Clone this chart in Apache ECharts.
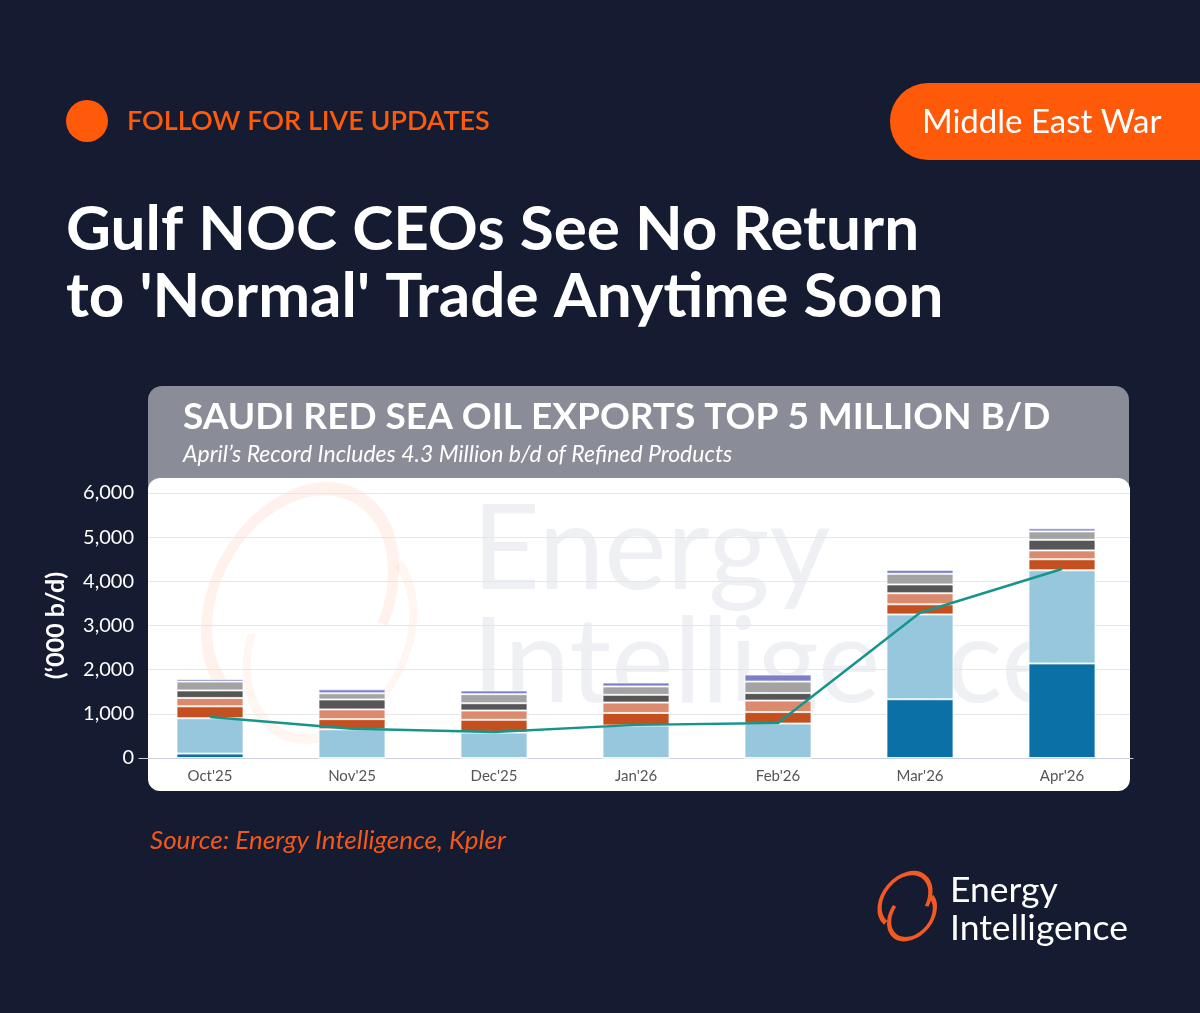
<!DOCTYPE html>
<html><head><meta charset="utf-8">
<script src="https://cdn.jsdelivr.net/npm/echarts@6/dist/echarts.min.js"></script>
<style>html,body{margin:0;padding:0;background:#151b30;}#c{width:1200px;height:1013px;}</style>
</head><body><div id="c"></div>
<script>
const categories = ["Oct'25","Nov'25","Dec'25","Jan'26","Feb'26","Mar'26","Apr'26"];
const seriesDarkBlue  = [100, 0, 0, 0, 0, 1330, 2140];
const seriesLightBlue = [800, 650, 575, 735, 780, 1920, 2110];
const seriesRust      = [270, 230, 290, 285, 260, 230, 250];
const seriesSalmon    = [190, 220, 210, 235, 260, 250, 200];
const seriesDarkGray  = [170, 225, 165, 175, 170, 200, 240];
const seriesGray      = [200, 140, 205, 190, 260, 240, 190];
const seriesPurple    = [60, 90, 85, 90, 160, 90, 70];
const lineRefined     = [930, 660, 590, 750, 790, 3290, 4280];
const yTicks = [0, 1000, 2000, 3000, 4000, 5000, 6000];

const chart = echarts.init(document.getElementById('c'), null, {renderer:'canvas'});
const F = 'Lato, "Noto Sans", sans-serif';
const orange = '#ff5a0a';
const border = {borderColor:'rgba(255,255,255,0.75)', borderWidth:1};
function bar(name, data, color){
  return {name, type:'bar', stack:'s', data, barWidth:67, xAxisIndex:0, yAxisIndex:0,
    itemStyle:Object.assign({color}, border), emphasis:{disabled:true}, z:3};
}
chart.setOption({
  backgroundColor:'#151b30',
  animation:false,
  grid:[
    {left:139, right:67, top:493, bottom:255},
    {left:148, right:70, top:493, bottom:255}
  ],
  xAxis:[
    {type:'category', gridIndex:0, data:categories, axisTick:{show:false},
     axisLine:{lineStyle:{color:'#ccd0d8'}}, axisLabel:{color:'#555', fontSize:15, fontFamily:F, margin:11}},
    {type:'value', gridIndex:1, show:false, min:0, max:1}
  ],
  yAxis:[
    {type:'value', gridIndex:0, min:0, max:6000, interval:1000, show:false},
    {type:'value', gridIndex:1, min:yTicks[0], max:yTicks[yTicks.length-1], interval:1000,
     axisLine:{show:false}, axisTick:{show:false},
     splitLine:{lineStyle:{color:'#e6e6e6', width:1}},
     axisLabel:{color:'#fff', fontSize:20, fontFamily:F, margin:14,
       formatter:v=>v.toLocaleString('en-US')},
     name:'(\u2018000 b/d)', nameLocation:'middle', nameRotate:90, nameGap:80,
     nameTextStyle:{color:'#fff', fontSize:25, fontWeight:'bold', fontFamily:F}}
  ],
  graphic:[
    // chart header panel
    {type:'rect', z:-20, shape:{x:148,y:386,width:981,height:140,r:14}, style:{fill:'#8a8c98'}},
    {type:'rect', z:-19, shape:{x:148,y:478,width:982,height:313,r:12}, style:{fill:'#ffffff'}},
    // watermark
    {type:'text', z:-18, left:472, top:492, style:{text:'Energy', fill:'#eef0f4', font:'118px '+F}},
    {type:'text', z:-18, left:472, top:605, style:{text:'Intelligence', fill:'#eef0f4', font:'118px '+F}},
    {type:'arc', z:-18, x:300, y:600, rotation:-0.5, scaleX:0.72, shape:{cx:0,cy:0,r:118,startAngle:Math.PI*0.55,endAngle:Math.PI*1.95},
      style:{stroke:'rgba(255,110,60,0.09)', lineWidth:14, fill:null}},
    {type:'arc', z:-18, x:330, y:640, rotation:-0.5, scaleX:0.72, shape:{cx:0,cy:0,r:105,startAngle:Math.PI*1.6,endAngle:Math.PI*0.9},
      style:{stroke:'rgba(255,110,60,0.07)', lineWidth:10, fill:null}},
    // header
    {type:'circle', z:10, shape:{cx:87,cy:121,r:21}, style:{fill:orange}},
    {type:'text', z:10, x:127, y:121, style:{text:'FOLLOW FOR LIVE UPDATES', fill:orange, font:'600 27px '+F, textVerticalAlign:'middle'}},
    {type:'rect', z:10, shape:{x:890,y:83,width:360,height:77,r:38}, style:{fill:orange}},
    {type:'text', z:11, x:922, y:122, style:{text:'Middle East War', fill:'#fff', font:'33px '+F, textVerticalAlign:'middle'}},
    {type:'text', z:10, x:66, y:230, style:{text:'Gulf NOC CEOs See No Return', fill:'#fff', font:'bold 62px '+F, textVerticalAlign:'middle'}},
    {type:'text', z:10, x:66, y:297, style:{text:"to 'Normal' Trade Anytime Soon", fill:'#fff', font:'bold 62px '+F, textVerticalAlign:'middle'}},
    // chart titles
    {type:'text', z:10, x:183, y:417, style:{text:'SAUDI RED SEA OIL EXPORTS TOP 5 MILLION B/D', fill:'#fff', font:'bold 37px '+F, textVerticalAlign:'middle'}},
    {type:'text', z:10, x:183, y:455, style:{text:'April\u2019s Record Includes 4.3 Million b/d of Refined Products', fill:'#fff', font:'italic 23px '+F, textVerticalAlign:'middle'}},
    // source
    {type:'text', z:10, x:150, y:841, style:{text:'Source: Energy Intelligence, Kpler', fill:'#f2581c', font:'italic 26px '+F, textVerticalAlign:'middle'}},
    // logo
    {type:'arc', z:10, x:905, y:900, rotation:-0.7, scaleX:0.72, shape:{cx:0,cy:0,r:30,startAngle:Math.PI*0.5,endAngle:Math.PI*1.9},
      style:{stroke:'#f15a24', lineWidth:5, fill:null}},
    {type:'arc', z:10, x:912, y:915, rotation:-0.7, scaleX:0.72, shape:{cx:0,cy:0,r:27,startAngle:Math.PI*1.55,endAngle:Math.PI*0.95},
      style:{stroke:'#f15a24', lineWidth:5, fill:null}},
    {type:'text', z:10, x:950, y:891, style:{text:'Energy', fill:'#fff', font:'35.5px '+F, textVerticalAlign:'middle'}},
    {type:'text', z:10, x:950, y:929, style:{text:'Intelligence', fill:'#fff', font:'35.5px '+F, textVerticalAlign:'middle'}}
  ],
  series:[
    bar('Crude A', seriesDarkBlue, '#0b70a5'),
    bar('Products', seriesLightBlue, '#97c7dd'),
    bar('Series 3', seriesRust, '#c5501f'),
    bar('Series 4', seriesSalmon, '#dc8a6e'),
    bar('Series 5', seriesDarkGray, '#575656'),
    bar('Series 6', seriesGray, '#a3a3a3'),
    bar('Series 7', seriesPurple, '#7d80c8'),
    {name:'Refined products', type:'line', data:lineRefined, xAxisIndex:0, yAxisIndex:0,
     symbol:'none', lineStyle:{color:'#16958d', width:2.5}, z:5, emphasis:{disabled:true}}
  ]
});
</script></body></html>
